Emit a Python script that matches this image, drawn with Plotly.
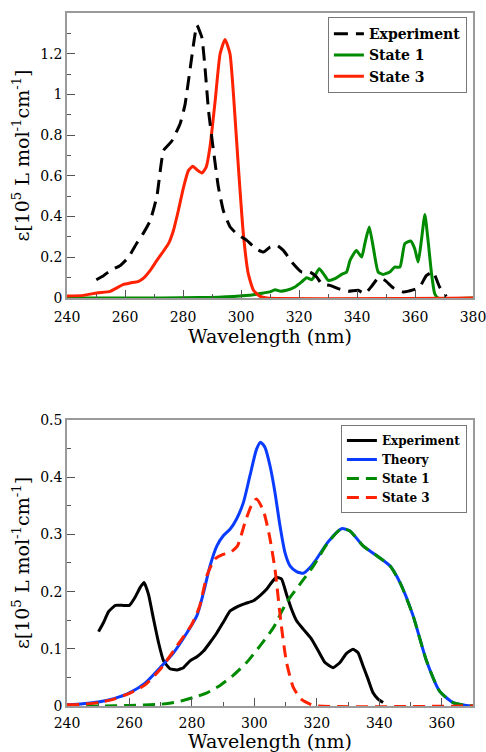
import plotly.graph_objects as go

# ---------------- Top panel data ----------------
top_exp_x = [250.1, 252.6, 255.5, 258.4, 261.2, 264.1, 266.4, 268.7, 271.0, 273.3, 276.1, 279.0,
             280.7, 282.5, 284.8, 286.5, 287.6, 288.8, 290.5, 292.2, 293.9, 296.2, 298.5, 302.0,
             305.4, 307.7, 310.0, 312.3, 314.6, 317.5, 320.9, 323.8, 326.1, 327.8, 330.7, 333.5,
             337.0, 340.4, 342.7, 345.0, 347.3, 349.6, 352.5, 355.9, 359.3, 361.6, 363.9, 366.2,
             368.5, 370.8]
top_exp_y = [0.09, 0.11, 0.14, 0.16, 0.20, 0.27, 0.32, 0.38, 0.50, 0.725, 0.77, 0.856,
             0.95, 1.13, 1.34, 1.28, 1.13, 0.92, 0.725, 0.545, 0.43, 0.35, 0.316, 0.283,
             0.24, 0.226, 0.25, 0.259, 0.234, 0.177, 0.128, 0.128, 0.103, 0.07, 0.062, 0.046,
             0.033, 0.038, 0.021, 0.057, 0.098, 0.087, 0.05, 0.03, 0.04, 0.054, 0.11, 0.128,
             0.054, 0.008]

top_s1_x = [240, 260, 285.9, 297.4, 304.3, 307.7, 310.0, 311.7, 313.4, 315.7, 318.6, 320.9,
            322.6, 324.3, 325.5, 327.0, 328.4, 330.1, 332.4, 334.7, 336.4, 337.6, 339.8, 341.6,
            342.7, 344.2, 345.6, 347.3, 349.0, 351.3, 353.0, 354.8, 356.5, 358.5, 359.9, 361.1,
            362.2, 363.4, 364.5, 365.7, 366.8, 368.0, 380]
top_s1_y = [0.0, 0.0, 0.002, 0.008, 0.016, 0.025, 0.03, 0.041, 0.034, 0.038, 0.054, 0.079,
            0.10, 0.09, 0.111, 0.144, 0.12, 0.087, 0.095, 0.116, 0.128, 0.185, 0.234, 0.201,
            0.267, 0.349, 0.25, 0.128, 0.116, 0.128, 0.152, 0.152, 0.267, 0.28, 0.242, 0.177,
            0.283, 0.41, 0.283, 0.12, 0.021, 0.0, 0.0]

top_s3_x = [240, 245.7, 250.3, 254.9, 257.2, 259.5, 261.8, 264.7, 266.4, 268.7, 271.0, 273.3,
            275.0, 276.7, 278.4, 280.2, 281.9, 283.4, 284.8, 286.5, 288.0, 289.3, 291.1, 292.8,
            294.5, 296.2, 297.4, 299.1, 300.8, 302.5, 304.3, 306.6, 308.9, 380]
top_s3_y = [0.01, 0.013, 0.025, 0.033, 0.05, 0.067, 0.074, 0.082, 0.098, 0.136, 0.185, 0.231,
            0.267, 0.332, 0.43, 0.545, 0.627, 0.647, 0.63, 0.614, 0.643, 0.742, 0.97, 1.2,
            1.27, 1.2, 1.0, 0.643, 0.316, 0.12, 0.038, 0.008, 0.0, 0.0]

# ---------------- Bottom panel data ----------------
bot_exp_x = [250.1, 251.7, 253.3, 255.5, 257.6, 260.0, 261.8, 263.4, 264.7, 266.1, 267.7, 269.3,
             270.9, 273.0, 275.2, 277.3, 279.4, 281.6, 283.7, 285.8, 288.0, 290.1, 292.2, 294.3,
             297.0, 299.7, 301.8, 303.9, 305.5, 307.1, 308.7, 310.3, 311.9, 313.5, 315.7, 318.3,
             320.5, 322.6, 325.2, 327.4, 329.5, 331.6, 333.2, 334.8, 336.4, 338.0, 339.6, 341.2]
bot_exp_y = [0.13, 0.146, 0.165, 0.176, 0.176, 0.176, 0.19, 0.207, 0.216, 0.195, 0.152, 0.111,
             0.079, 0.065, 0.063, 0.067, 0.079, 0.086, 0.096, 0.111, 0.128, 0.147, 0.166, 0.173,
             0.179, 0.184, 0.193, 0.204, 0.216, 0.225, 0.222, 0.195, 0.169, 0.149, 0.134, 0.117,
             0.096, 0.076, 0.067, 0.076, 0.092, 0.099, 0.093, 0.07, 0.047, 0.023, 0.012, 0.006]

bot_th_x = [240, 245, 250, 255, 260, 265, 270, 274.1, 278.4, 281.6, 283.7, 285.8, 288.0, 290.1,
            292.2, 294.3, 296.5, 298.6, 300.7, 302.0, 303.4, 305.0, 306.6, 308.2, 309.8, 311.4,
            313.5, 315.7, 317.8, 319.9, 323.6, 327.9, 330.6, 334.8, 339.1, 343.4, 346.6, 350.8,
            355.1, 359.3, 363.6, 367.9, 370]
bot_th_y = [0.002, 0.004, 0.007, 0.013, 0.023, 0.04, 0.068, 0.093, 0.128, 0.158, 0.198, 0.245,
            0.28, 0.298, 0.309, 0.327, 0.356, 0.403, 0.449, 0.461, 0.452, 0.42, 0.373, 0.315,
            0.268, 0.245, 0.235, 0.232, 0.242, 0.257, 0.287, 0.31, 0.306, 0.28, 0.263, 0.245,
            0.216, 0.158, 0.079, 0.026, 0.006, 0.001, 0.0]

bot_s1_x = [240, 250, 260, 269.8, 275.2, 280.5, 284.8, 289.0, 293.3, 297.5, 301.8, 306.1,
            310.3, 314.6, 318.9, 323.6, 327.9, 330.6, 334.8, 339.1, 343.4, 346.6, 350.8, 355.1,
            359.3, 363.6, 367.9, 370]
bot_s1_y = [0.0, 0.0, 0.001, 0.003, 0.007, 0.015, 0.023, 0.036, 0.054, 0.076, 0.105, 0.137,
            0.181, 0.213, 0.245, 0.286, 0.31, 0.306, 0.28, 0.263, 0.245, 0.216, 0.158, 0.079,
            0.026, 0.006, 0.001, 0.0]

bot_s3_x = [240, 245, 250, 255, 260, 265, 270, 275.2, 280.0, 282.5, 284.8, 287.4, 290.0, 292.2,
            294.6, 297.0, 299.0, 300.7, 302.9, 304.8, 306.6, 308.5, 310.3, 312.5, 315.0, 318.0,
            320.0, 370]
bot_s3_y = [0.002, 0.003, 0.006, 0.012, 0.022, 0.037, 0.065, 0.105, 0.143, 0.175, 0.228, 0.257,
            0.265, 0.268, 0.28, 0.321, 0.35, 0.362, 0.341, 0.298, 0.239, 0.146, 0.076, 0.032,
            0.012, 0.003, 0.0, 0.0]

BLACK = "#000000"
RED = "#ff2200"
GREEN = "#008a00"
BLUE = "#0a3cff"
SERIF = "DejaVu Serif"

fig = go.Figure()

fig.add_trace(go.Scatter(x=top_s1_x, y=top_s1_y, mode="lines", name="State 1",
                         line=dict(color=GREEN, width=3, shape="spline", smoothing=0.5),
                         xaxis="x", yaxis="y", legend="legend", legendrank=2))
fig.add_trace(go.Scatter(x=top_s3_x, y=top_s3_y, mode="lines", name="State 3",
                         line=dict(color=RED, width=3, shape="spline", smoothing=0.5),
                         xaxis="x", yaxis="y", legend="legend", legendrank=3))
fig.add_trace(go.Scatter(x=top_exp_x, y=top_exp_y, mode="lines", name="Experiment",
                         line=dict(color=BLACK, width=3, dash="14px,8px", shape="spline", smoothing=0.4),
                         xaxis="x", yaxis="y", legend="legend", legendrank=1))

fig.add_trace(go.Scatter(x=bot_exp_x, y=bot_exp_y, mode="lines", name="Experiment",
                         line=dict(color=BLACK, width=3, shape="spline", smoothing=0.4),
                         xaxis="x2", yaxis="y2", legend="legend2", legendrank=1))
fig.add_trace(go.Scatter(x=bot_th_x, y=bot_th_y, mode="lines", name="Theory",
                         line=dict(color=BLUE, width=3, shape="spline", smoothing=0.6),
                         xaxis="x2", yaxis="y2", legend="legend2", legendrank=2))
fig.add_trace(go.Scatter(x=bot_s1_x, y=bot_s1_y, mode="lines", name="State 1",
                         line=dict(color=GREEN, width=3, dash="12px,7px", shape="spline", smoothing=0.6),
                         xaxis="x2", yaxis="y2", legend="legend2", legendrank=3))
fig.add_trace(go.Scatter(x=bot_s3_x, y=bot_s3_y, mode="lines", name="State 3",
                         line=dict(color=RED, width=3, dash="12px,7px", shape="spline", smoothing=0.6),
                         xaxis="x2", yaxis="y2", legend="legend2", legendrank=4))

ytitle = "ε[10<sup>5</sup> L mol<sup>-1</sup>cm<sup>-1</sup>]"

minor_common = dict(ticks="inside", ticklen=4, tickcolor="#555555")
axis_common = dict(showline=True, mirror=True, linecolor="#9a9a9a", linewidth=1.5,
                   ticks="inside", ticklen=8, tickcolor="#555555", tickwidth=1,
                   showgrid=False, zeroline=False, automargin=False,
                   ticklabeloverflow="allow",
                   tickfont=dict(family=SERIF, size=14, color="#000"))

fig.update_layout(
    width=486, height=752,
    margin=dict(l=67, r=13, t=13, b=46),
    paper_bgcolor="white", plot_bgcolor="white",
    font=dict(family=SERIF, color="#000"),
    xaxis=dict(axis_common, domain=[0, 1], anchor="y", range=[240, 380], dtick=20, tick0=240,
               ticklabelstandoff=5,
               minor=dict(minor_common, dtick=10, tick0=240),
               title=dict(text="Wavelength (nm)", font=dict(family=SERIF, size=19), standoff=1)),
    yaxis=dict(axis_common, domain=[0.5887, 1], anchor="x", range=[0, 1.4],
               tickvals=[0, 0.2, 0.4, 0.6, 0.8, 1.0, 1.2], ticktext=["0", "0.2", "0.4", "0.6", "0.8", "1", "1.2"],
               minor=dict(minor_common, tickmode="linear", dtick=0.1, tick0=0),
               title=dict(text=ytitle, font=dict(family=SERIF, size=19), standoff=6)),
    xaxis2=dict(axis_common, domain=[0, 1], anchor="y2", range=[240, 370], dtick=20, tick0=240,
                ticklabelstandoff=3,
                minor=dict(minor_common, dtick=10, tick0=240),
                title=dict(text="Wavelength (nm)", font=dict(family=SERIF, size=19), standoff=2)),
    yaxis2=dict(axis_common, domain=[0, 0.4127], anchor="x2", range=[0, 0.5], dtick=0.1, tick0=0,
                minor=dict(minor_common, dtick=0.05, tick0=0),
                title=dict(text=ytitle, font=dict(family=SERIF, size=19), standoff=6)),
    legend=dict(x=0.985, y=0.994, xanchor="right", yanchor="top",
                bgcolor="white", bordercolor="#777777", borderwidth=1,
                font=dict(family=SERIF, size=14, color="#000", weight="bold"),
                tracegroupgap=0, itemwidth=30),
    legend2=dict(x=0.985, y=0.4055, xanchor="right", yanchor="top",
                 bgcolor="white", bordercolor="#777777", borderwidth=1,
                 font=dict(family=SERIF, size=12, color="#000", weight="bold"),
                 tracegroupgap=0, itemwidth=30),
)

fig.write_html("out.html")
